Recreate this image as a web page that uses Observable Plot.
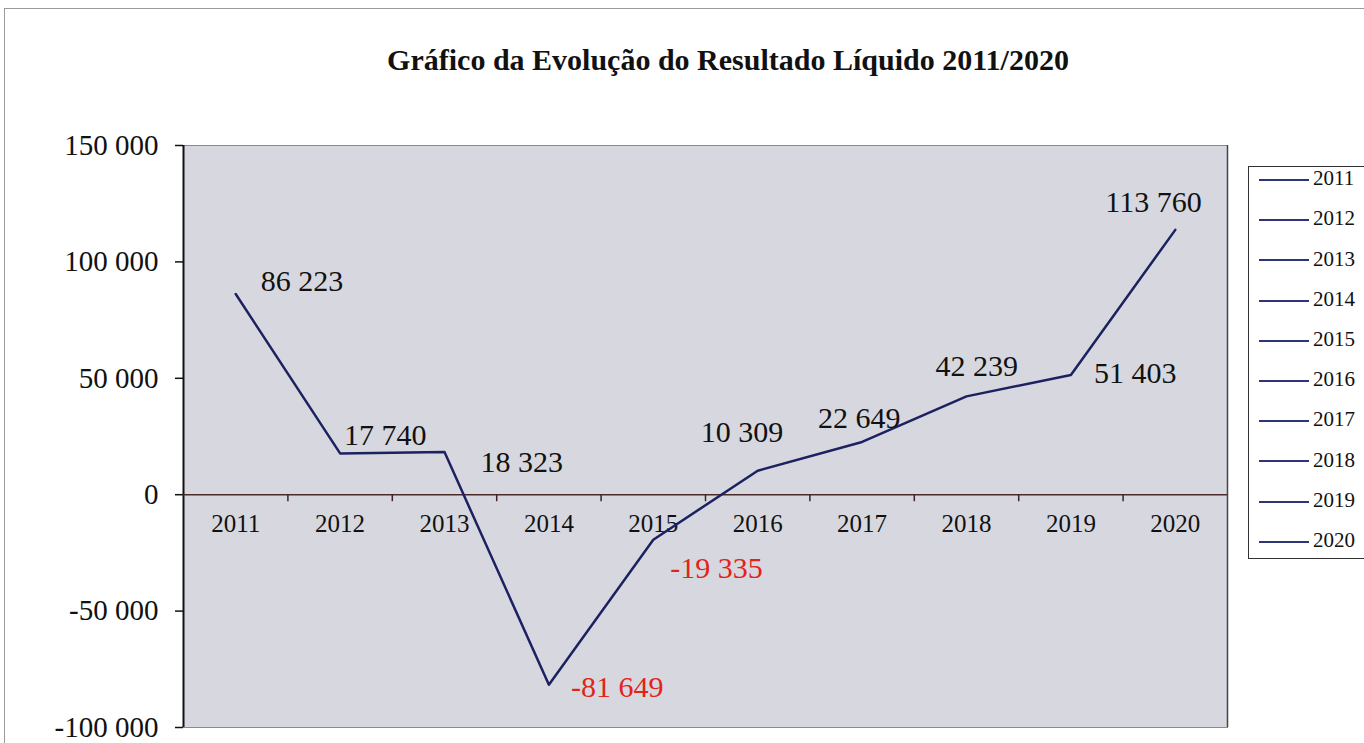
<!DOCTYPE html>
<html>
<head>
<meta charset="utf-8">
<script src="https://cdn.jsdelivr.net/npm/d3@7"></script>
<script src="https://cdn.jsdelivr.net/npm/@observablehq/plot@0.6"></script>
<style>
  html, body { margin: 0; padding: 0; background: #fff; overflow: hidden; }
  #wrap { position: relative; width: 1364px; height: 743px; overflow: hidden;
          font-family: "Liberation Serif", "Times New Roman", serif; color: #111; }
  #pageframe { position: absolute; left: 4px; top: 8px; width: 1400px; height: 800px;
               border-top: 1px solid #9a9a9a; border-left: 1px solid #9a9a9a; }
  #title { position: absolute; left: 0; top: 45px; width: 1456px; text-align: center;
           font-size: 30px; line-height: 30px; font-weight: bold; }
  #chart { position: absolute; left: 0; top: 0; }
  #legend { position: absolute; left: 1248px; top: 166px; width: 160px; height: 391px;
            border: 1px solid #333; background: #fff; }
  .lg-line { position: absolute; left: 10px; width: 50px; height: 2px; background: #2b3577; }
  .lg-text { position: absolute; left: 64px; height: 20px; line-height: 20px; font-size: 21px; }
</style>
</head>
<body>
<div id="wrap">
  <div id="pageframe"></div>
  <div id="chart"></div>
  <div id="title"></div>
  <div id="legend"></div>
</div>
<script>
// ---- data ----
const titleText = "Gráfico da Evolução do Resultado Líquido 2011/2020";
const years = ["2011", "2012", "2013", "2014", "2015", "2016", "2017", "2018", "2019", "2020"];
const values = [86223, 17740, 18323, -81649, -19335, 10309, 22649, 42239, 51403, 113760];
const yTicks = [150000, 100000, 50000, 0, -50000, -100000];
const yDomain = [-100000, 150000];

// ---- formatting ----
const group = d3.format(",d");
const fmt = (n) => (n < 0 ? "-" : "") + group(Math.abs(n)).replace(/,/g, " ");

const rows = years.map((year, i) => ({ i, year, value: values[i], label: fmt(values[i]) }));

// ---- layout ----
const W = 1364, H = 743;
const mTop = 145, mBottom = 16, mLeft = 183, mRight = 137;
const plotH = H - mTop - mBottom;
const unitsPerPx = (yDomain[1] - yDomain[0]) / plotH;
const tickLen = 7 * unitsPerPx;

// per-label nudges (pixels), as placed in the original chart
const nudge = {
  "2011": [25, -3], "2012": [4, -8], "2013": [36, 20], "2014": [22, 12], "2015": [17, 38],
  "2016": [-57, -29], "2017": [-44, -14], "2018": [-31, -20], "2019": [23, 8], "2020": [-70, -18]
};

const boundaries = d3.range(1, years.length).map((k) => k - 0.5);

const marks = [
  Plot.frame({ fill: "#d7d8df", stroke: null }),
  Plot.frame({ stroke: "#8a8a8a", strokeWidth: 1 }),
  Plot.ruleX([years.length - 0.5], { stroke: "#444", strokeWidth: 1.5 }),
  Plot.ruleX([-0.5], { stroke: "#111", strokeWidth: 2 }),
  Plot.ruleY([0], { stroke: "#4b2a2a", strokeWidth: 1.5 }),
  Plot.ruleX(boundaries, { y1: 0, y2: -tickLen, stroke: "#3a2424", strokeWidth: 1.5 }),
  Plot.axisY({ ticks: yTicks, tickFormat: fmt, tickSize: 8, tickPadding: 17, fontSize: 29,
               color: "#111", strokeWidth: 1.5, label: null }),
  Plot.text(rows, { x: "i", y: () => 0, text: "year", dy: 37, lineAnchor: "bottom",
                    fontSize: 25, fill: "#111" }),
  Plot.line(rows, { x: "i", y: "value", stroke: "#1c2160", strokeWidth: 2.5 })
];

for (const r of rows) {
  const [dx, dy] = nudge[r.year];
  marks.push(Plot.text([r], {
    x: "i", y: "value", text: "label", dx, dy, textAnchor: "start", lineAnchor: "bottom",
    fontSize: 30, fill: r.value < 0 ? "#e2231a" : "#111"
  }));
}

const chart = Plot.plot({
  width: W, height: H,
  marginTop: mTop, marginBottom: mBottom, marginLeft: mLeft, marginRight: mRight,
  x: { domain: [-0.5, years.length - 0.5], axis: null },
  y: { domain: yDomain, axis: null },
  style: { fontFamily: "Liberation Serif, Times New Roman, serif", background: "transparent", overflow: "visible" },
  marks
});
document.getElementById("chart").appendChild(chart);
document.getElementById("title").textContent = titleText;

// ---- legend ----
const legend = document.getElementById("legend");
years.forEach((y, i) => {
  const line = document.createElement("div");
  line.className = "lg-line";
  line.style.top = (12 + 40.2 * i) + "px";
  legend.appendChild(line);
  const t = document.createElement("div");
  t.className = "lg-text";
  t.style.top = (1.25 + 40.2 * i) + "px";
  t.textContent = y;
  legend.appendChild(t);
});
</script>
</body>
</html>
